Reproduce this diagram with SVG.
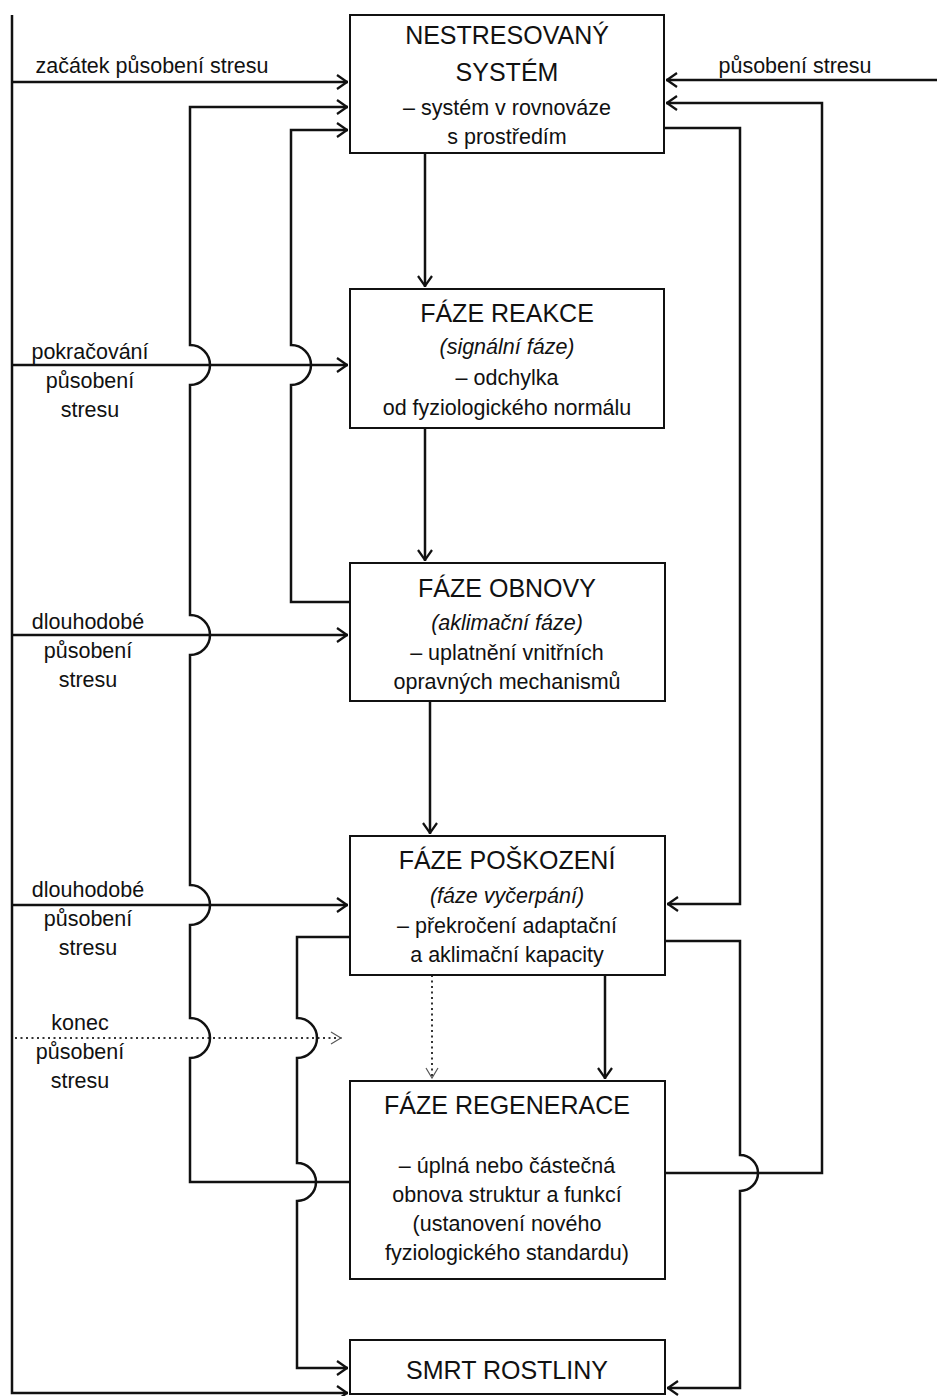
<svg xmlns="http://www.w3.org/2000/svg" width="937" height="1396" viewBox="0 0 937 1396">
<style>
.box{fill:#fff;stroke:#111;stroke-width:2}
.ln{fill:none;stroke:#111;stroke-width:2.5}
.dot{fill:none;stroke:#333;stroke-width:2;stroke-dasharray:2 3.5}
text{font-family:"Liberation Sans",Arial,sans-serif;fill:#111;text-anchor:middle}
.t{font-size:25px}
.b{font-size:21.5px}
.i{font-size:21.5px;font-style:italic}
.s{font-size:21.5px}
</style>
<defs>
<marker id="a" viewBox="0 0 12 16" refX="12" refY="8" markerWidth="12" markerHeight="16" markerUnits="userSpaceOnUse" orient="auto">
<path d="M1,1 L11,8 L1,15" fill="none" stroke="#111" stroke-width="2.2"/>
</marker>
<marker id="ad" viewBox="0 0 12 16" refX="12" refY="8" markerWidth="12" markerHeight="16" markerUnits="userSpaceOnUse" orient="auto">
<path d="M1,2 L11,8 L1,14" fill="none" stroke="#555" stroke-width="1.2"/>
</marker>
</defs>
<rect width="937" height="1396" fill="#fff"/>
<g id="connectors">
<path class="ln" d="M12,15 V1393 H348" marker-end="url(#a)"/>
<path class="ln" d="M12,82 H348" marker-end="url(#a)"/>
<path class="ln" d="M12,365 H348" marker-end="url(#a)"/>
<path class="ln" d="M12,635 H348" marker-end="url(#a)"/>
<path class="ln" d="M12,905 H348" marker-end="url(#a)"/>
<path class="dot" d="M15,1038 H342" marker-end="url(#ad)"/>
<path class="ln" d="M350,1182 H190 V1058 A20,20 0 0 0 190,1018 V925 A20,20 0 0 0 190,885 V655 A20,20 0 0 0 190,615 V385 A20,20 0 0 0 190,345 V107 H348" marker-end="url(#a)"/>
<path class="ln" d="M350,602 H291 V385 A20,20 0 0 0 291,345 V130 H348" marker-end="url(#a)"/>
<path class="ln" d="M350,937 H297 V1018 A20,20 0 0 1 297,1058 V1163 A19,19 0 0 1 297,1201 V1368 H348" marker-end="url(#a)"/>
<path class="ln" d="M937,80 H666" marker-end="url(#a)"/>
<path class="ln" d="M665,1173 H822 V103 H666" marker-end="url(#a)"/>
<path class="ln" d="M664,128 H740 V904 H667" marker-end="url(#a)"/>
<path class="ln" d="M665,941 H740 V1155 A18,18 0 0 1 740,1191 V1388 H667" marker-end="url(#a)"/>
<path class="ln" d="M425,153 V287" marker-end="url(#a)"/>
<path class="ln" d="M425,428 V561" marker-end="url(#a)"/>
<path class="ln" d="M430,701 V834" marker-end="url(#a)"/>
<path class="dot" d="M432,975 V1079" marker-end="url(#ad)"/>
<path class="ln" d="M605,975 V1079" marker-end="url(#a)"/>
</g>
<g id="labels">
<text class="s" x="152" y="73">začátek působení stresu</text>
<text class="s" x="795" y="73">působení stresu</text>
<text class="s" x="90" y="359">pokračování</text>
<text class="s" x="90" y="388">působení</text>
<text class="s" x="90" y="417">stresu</text>
<text class="s" x="88" y="629">dlouhodobé</text>
<text class="s" x="88" y="658">působení</text>
<text class="s" x="88" y="687">stresu</text>
<text class="s" x="88" y="897">dlouhodobé</text>
<text class="s" x="88" y="926">působení</text>
<text class="s" x="88" y="955">stresu</text>
<text class="s" x="80" y="1030">konec</text>
<text class="s" x="80" y="1059">působení</text>
<text class="s" x="80" y="1088">stresu</text>
</g>
<g id="n1">
<rect class="box" x="350" y="15" width="314" height="138"/>
<text class="t" x="507" y="44">NESTRESOVANÝ</text>
<text class="t" x="507" y="81">SYSTÉM</text>
<text class="b" x="507" y="115">– systém v rovnováze</text>
<text class="b" x="507" y="144">s prostředím</text>
</g>
<g id="n2">
<rect class="box" x="350" y="289" width="314" height="139"/>
<text class="t" x="507" y="322">FÁZE REAKCE</text>
<text class="i" x="507" y="354">(signální fáze)</text>
<text class="b" x="507" y="385">– odchylka</text>
<text class="b" x="507" y="415">od fyziologického normálu</text>
</g>
<g id="n3">
<rect class="box" x="350" y="563" width="315" height="138"/>
<text class="t" x="507" y="597">FÁZE OBNOVY</text>
<text class="i" x="507" y="630">(aklimační fáze)</text>
<text class="b" x="507" y="660">– uplatnění vnitřních</text>
<text class="b" x="507" y="689">opravných mechanismů</text>
</g>
<g id="n4">
<rect class="box" x="350" y="836" width="315" height="139"/>
<text class="t" x="507" y="869">FÁZE POŠKOZENÍ</text>
<text class="i" x="507" y="903">(fáze vyčerpání)</text>
<text class="b" x="507" y="933">– překročení adaptační</text>
<text class="b" x="507" y="962">a aklimační kapacity</text>
</g>
<g id="n5">
<rect class="box" x="350" y="1081" width="315" height="198"/>
<text class="t" x="507" y="1114">FÁZE REGENERACE</text>
<text class="b" x="507" y="1173">– úplná nebo částečná</text>
<text class="b" x="507" y="1202">obnova struktur a funkcí</text>
<text class="b" x="507" y="1231">(ustanovení nového</text>
<text class="b" x="507" y="1260">fyziologického standardu)</text>
</g>
<g id="n6">
<rect class="box" x="350" y="1340" width="315" height="54"/>
<text class="t" x="507" y="1379">SMRT ROSTLINY</text>
</g>
</svg>
